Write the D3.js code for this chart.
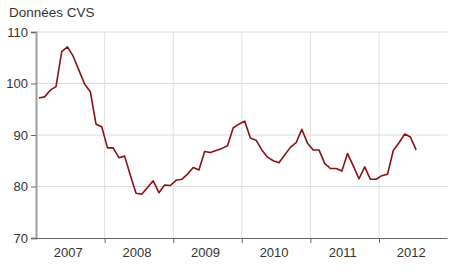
<!DOCTYPE html>
<html><head><meta charset="utf-8">
<script src="https://cdn.jsdelivr.net/npm/d3@7"></script>
<style>body{margin:0;background:#fff;}svg{display:block;font-family:"Liberation Sans",Arial,sans-serif;}</style>
</head><body>
<svg id="c" width="450" height="279"></svg>
<script>
const title = "Données CVS";
const years = ["2007","2008","2009","2010","2011","2012"];
const yTicks = [70, 80, 90, 100, 110];
// monthly values, Jan 2007 .. Jul 2012
const values = [
  97.2, 97.4, 98.7, 99.4, 106.2, 107.1, 105.3, 102.6, 99.9, 98.4, 92.1, 91.6,
  87.5, 87.5, 85.6, 85.9, 82.2, 78.7, 78.5, 79.8, 81.1, 78.8, 80.3, 80.2,
  81.2, 81.4, 82.4, 83.7, 83.2, 86.8, 86.6, 87.0, 87.4, 87.9, 91.4, 92.1,
  92.7, 89.4, 89.0, 87.1, 85.7, 85.0, 84.6, 86.1, 87.6, 88.5, 91.1, 88.4,
  87.1, 87.1, 84.5, 83.5, 83.5, 83.0, 86.4, 84.0, 81.5, 83.8, 81.4, 81.4,
  82.1, 82.4, 87.0, 88.5, 90.2, 89.6, 87.1
];

const svg = d3.select("#c");
const L = 36, R = 447.6, T = 32, B = 238;
const x = d3.scaleLinear().domain([0, years.length * 12]).range([L, R]);
const y = d3.scaleLinear().domain([70, 110]).range([B, T]);

// horizontal grid
svg.append("g").selectAll("line").data(yTicks.filter(d => d > 70)).join("line")
  .attr("x1", L).attr("x2", R).attr("y1", d => y(d)).attr("y2", d => y(d))
  .attr("stroke", "#dcdcdc").attr("stroke-width", 1);
// vertical grid at year boundaries
svg.append("g").selectAll("line").data(d3.range(1, years.length)).join("line")
  .attr("x1", d => x(d * 12)).attr("x2", d => x(d * 12)).attr("y1", T).attr("y2", B)
  .attr("stroke", "#e0e0e0").attr("stroke-width", 1);

// y axis
const yAxis = d3.axisLeft(y).tickValues(yTicks).tickSize(5).tickPadding(3).tickFormat(d3.format("d"));
const gy = svg.append("g").attr("transform", `translate(${L},0)`).call(yAxis);
gy.select(".domain").attr("stroke", "#a0a0a0").attr("stroke-width", 2);
gy.selectAll(".tick line").attr("stroke", "#666");
gy.selectAll("text").attr("font-size", 13).attr("fill", "#333")
  .attr("font-family", "Liberation Sans, Arial, sans-serif");

// x axis (year boundaries ticks, labels centered)
const xAxis = d3.axisBottom(x).tickValues(d3.range(0, years.length + 1).map(d => d * 12))
  .tickSize(5).tickFormat("");
const gx = svg.append("g").attr("transform", `translate(0,${B})`).call(xAxis);
gx.select(".domain").attr("stroke", "#666").attr("stroke-width", 1).attr("d", `M${L},0.5H${R}`);
gx.selectAll(".tick line").attr("stroke", "#666");
gx.selectAll(".tick").filter(d => d === 0 || d === years.length * 12).remove();
svg.append("g").selectAll("text").data(years).join("text")
  .attr("x", (d, i) => x(i * 12 + 6) - 2).attr("y", 257)
  .attr("text-anchor", "middle").attr("font-size", 13).attr("fill", "#333")
  .text(d => d);

// line
const line = d3.line().x((d, i) => x(i + 0.5)).y(d => y(d));
svg.append("path").datum(values).attr("d", line)
  .attr("fill", "none").attr("stroke", "#8b1114").attr("stroke-width", 1.6)
  .attr("stroke-linejoin", "round");

// title
svg.append("text").attr("x", 9).attr("y", 17).attr("font-size", 13.5).attr("fill", "#333").text(title);
</script>
</body></html>
